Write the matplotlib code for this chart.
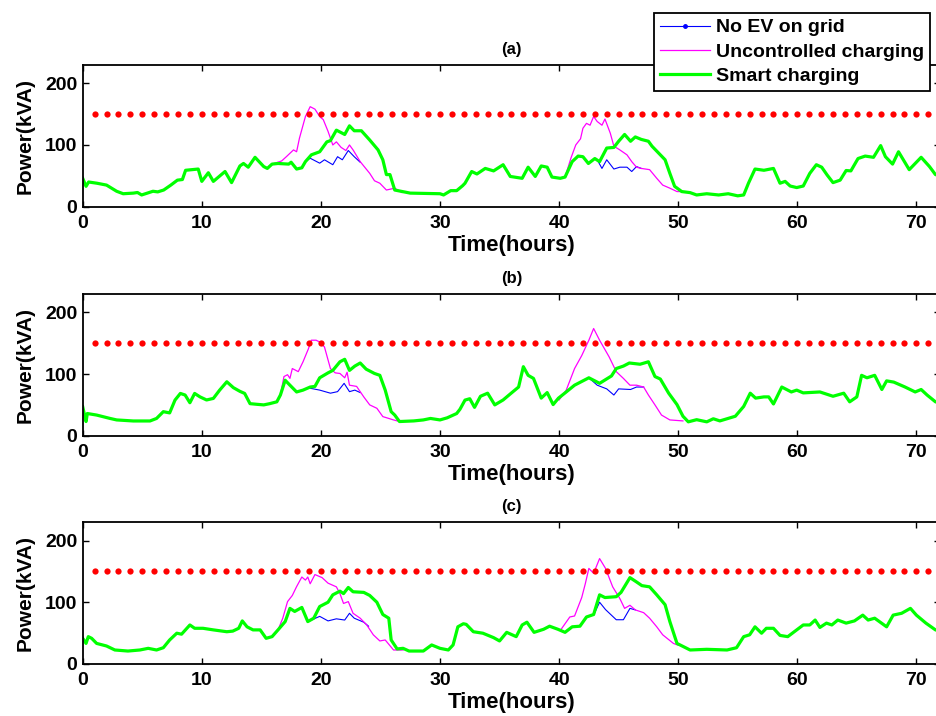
import numpy as np
import matplotlib
matplotlib.use('Agg')
import matplotlib.pyplot as plt
from matplotlib.lines import Line2D

plt.rcParams['font.family'] = ['Liberation Sans', 'DejaVu Sans']
plt.rcParams['font.weight'] = 'bold'

gap = np.nan  # separates the two evening windows in one series

# ---- panel (a) ----
smart_t_a = [0, 0.28, 0.5, 1.2, 2.0, 2.85, 3.4, 4.25, 4.6, 4.95, 5.9, 6.3, 6.8, 7.4, 7.95, 8.37, 8.64, 9.2, 9.7, 10.0,
             10.55, 10.97, 11.95, 12.5, 13.2, 13.5, 13.9, 14.47, 15.2, 15.5, 15.9, 16.4, 17.3, 17.5, 17.96, 18.4, 18.7,
             19.2, 19.9, 20.5, 20.8, 21.3, 22.0, 22.4, 22.8, 23.4, 24.1, 24.8, 25.2, 25.5, 25.8, 26.2, 27.5, 30.0,
             30.3, 30.9, 31.4, 31.9, 32.1, 32.66, 33.1, 33.8, 34.5, 35.3, 35.9, 36.9, 37.4, 38.0, 38.5, 39.0, 39.4,
             40.1, 40.5, 41.1, 41.6, 42.0, 42.46, 43.0, 43.4, 44.0, 44.6, 45.0, 45.5, 46.0, 46.4, 46.9, 47.5, 47.8,
             48.5, 48.9, 49.3, 49.7, 50.3, 51.0, 51.55, 52.4, 53.4, 54.2, 55.0, 55.5, 55.9, 56.45, 57.2, 58.0, 58.55,
             58.98, 59.4, 59.95, 60.5, 61.05, 61.6, 62.05, 62.5, 63.0, 63.6, 64.1, 64.5, 65.1, 65.7, 66.4, 67.0,
             67.4, 68.0, 68.5, 69.4, 70.4, 71.1, 71.6, 72.0]
smart_p_a = [46, 33, 40, 38, 35, 25, 21, 22, 23, 19, 25, 24, 27, 35, 43, 44, 59, 60, 61, 41,
             55, 41, 57, 39, 66, 70, 64, 80, 65, 62, 69, 70, 69, 72, 61, 63, 73,
             84, 89, 105, 107, 124, 117, 131, 123, 123, 108, 92, 76, 52, 52, 27, 22, 21,
             19, 26, 26, 34, 38, 57, 53, 62, 58, 68, 49, 46, 64, 49, 66, 64, 48,
             46, 48, 73, 82, 81, 70, 78, 73, 95, 96, 106, 117, 106, 113, 109, 106, 98,
             84, 76, 54, 33, 24.5, 22.8, 19, 21, 19, 21, 17.6, 19, 38, 61, 59, 62, 38,
             41, 33.5, 31, 33.5, 54, 68, 64, 51.5, 39, 43, 58.6, 58, 78, 82, 80, 99,
             81, 69, 89, 60, 80, 65, 52, 50]
unctrl_t_a = [15.9, 16.7, 17.1, 17.7, 17.96, 18.2, 18.7, 19.1, 19.5, 19.9, 20.2, 20.6, 21.0, 21.3, 21.7, 22.1, 22.4,
              22.7, 23.3, 24.1, 24.5, 24.95, 25.5, 26.2, 26.8, gap,
              40.5, 41.0, 41.4, 41.8, 42.0, 42.3, 42.6, 42.9, 43.2, 43.6, 43.85, 44.3, 44.6, 45.1, 45.7, 46.1, 46.5,
              46.9, 47.6, 48.2, 48.7, 49.3, 49.9, 50.3]
unctrl_p_a = [69, 74, 81, 92, 89, 111, 146, 162, 158, 146, 141, 122, 100, 105, 96, 91, 100,
              92, 73, 54, 42, 38, 27, 30, 23, gap,
              48, 79, 100, 110, 127, 135, 132, 146, 138, 132, 142, 119, 98, 92, 84, 73, 64,
              62, 60, 46, 35, 30, 24.5, 24.5]
noev_t_a = [18.7, 19.1, 19.9, 20.3, 21.0, 21.4, 21.8, 22.3, 22.8, 23.3, gap,
            42.46, 43.0, 43.2, 43.6, 44.0, 44.6, 45.1, 45.7, 46.1, 46.5, 46.9]
noev_p_a = [73, 78.5, 70.5, 76, 68, 81, 76, 91, 81, 72, gap,
            70, 78, 76, 62, 76, 61, 64, 64, 57, 65, 62]

# ---- panel (b) ----
smart_t_b = [0, 0.28, 0.39, 1.17, 2.3, 2.85, 4.25, 5.65, 6.2, 6.77, 7.3, 7.75, 8.2, 8.6, 9.0, 9.4, 9.85, 10.4, 10.97,
             11.5, 12.1, 12.65, 13.2, 13.6, 14.05, 14.6, 15.2, 15.7, 16.3, 16.6, 17.0, 17.4, 17.96, 18.5, 19.1, 19.5,
             19.9, 20.6, 21.0, 21.6, 22.0, 22.4, 22.85, 23.3, 23.8, 24.5, 24.95, 25.4, 25.9, 26.2, 26.6, 27.8, 28.6,
             29.2, 30.0, 30.6, 31.4, 31.68, 32.1, 32.5, 32.9, 33.4, 34.0, 34.6, 35.3, 36.1, 36.6, 37.0, 37.4, 37.85,
             38.5, 39.0, 39.5, 39.95, 40.6, 41.3, 42.5, 43.4, 44.4, 44.8, 45.4, 45.9, 46.8, 47.5, 48.05, 48.5, 49.2,
             49.9, 50.4, 50.85, 51.55, 52.4, 52.95, 53.5, 54.1, 54.8, 55.5, 56.05, 56.5, 57.2, 57.6, 58.0, 58.7,
             59.5, 59.95, 60.5, 61.9, 63.0, 63.9, 64.4, 65.0, 65.4, 65.85, 66.5, 67.1, 67.5, 68.1, 69.05, 69.9,
             70.4, 70.9, 71.6, 72.0]
smart_p_b = [47, 23, 36, 33.5, 28, 25.6, 23.9, 23.9, 28, 39, 37, 57.8, 68.6, 66, 53.5, 68.6, 63, 58, 60.5,
             74, 87.5, 78, 72, 68.6, 52, 51, 50, 52, 55, 66, 90, 82, 71, 74, 79, 80,
             94, 102, 106, 120, 124, 106, 113, 118, 108, 101, 98, 74, 39, 33.5, 23, 24, 25.6,
             28, 25.6, 29, 36, 43, 57.8, 60, 46, 64, 69, 50, 58, 71, 79, 112, 98, 93,
             61, 70, 50.5, 61, 71, 82, 94, 85, 97, 109, 113, 118, 116, 120, 96, 92, 69,
             50.5, 31.6, 22.5, 26, 22.5, 27.5, 24, 27.5, 31.6, 47.5, 69, 61, 63, 63, 51.5, 79,
             71, 74, 69.5, 71, 64, 69, 55, 63, 98, 94, 98, 75, 89, 87, 79, 71,
             75, 66, 55, 53]
unctrl_t_b = [16.6, 16.9, 17.2, 17.4, 17.6, 18.1, 18.5, 18.95, 19.2, 19.6, 19.9, 20.3, 20.8, 21.2, 21.6, 22.0, 22.2,
              22.4, 23.0, 23.6, 24.1, 24.7, 25.2, 26.1, 26.6, gap,
              40.0, 40.6, 41.3, 41.9, 42.5, 42.9, 43.4, 44.2, 44.8, 45.4, 45.95, 46.5, 47.1, 47.5, 48.05, 48.6,
              49.3, 50.4]
unctrl_p_b = [66, 96, 99, 93, 109, 104, 120, 141, 155, 155, 152, 144, 109, 102, 101, 94, 103,
              82, 80, 63, 50, 44.5, 31, 25.6, 23, gap,
              58, 74, 109, 130, 155, 174, 155, 128, 104, 93, 82, 82, 79, 66, 50, 33.5,
              25.6, 24]
noev_t_b = [19.1, 19.9, 20.8, 21.4, 21.95, 22.4, 22.85, 23.3, gap,
            42.5, 43.2, 44.0, 44.6, 45.0, 46.0, 46.5, 47.1]
noev_p_b = [77, 74, 69, 71.5, 85, 71.5, 74, 70, gap,
            94, 82, 76, 66, 76, 75, 79, 79]

# ---- panel (c) ----
smart_t_c = [0, 0.28, 0.47, 0.75, 1.17, 2.0, 2.7, 3.8, 4.8, 5.5, 6.2, 6.77, 7.3, 7.9, 8.3, 9.0, 9.4, 10.1, 10.97,
             12.1, 12.6, 13.1, 13.4, 13.8, 14.3, 14.9, 15.4, 15.9, 16.4, 17.0, 17.4, 17.8, 18.4, 18.9, 19.4, 19.9,
             20.6, 21.0, 21.6, 21.9, 22.3, 22.7, 23.6, 24.1, 24.7, 25.2, 25.7, 25.9, 26.4, 26.9, 27.4, 28.6, 29.3,
             30.0, 30.7, 31.1, 31.5, 31.96, 32.2, 32.8, 33.6, 34.5, 35.0, 35.6, 36.4, 36.9, 37.3, 37.9, 38.7, 39.2,
             39.9, 40.5, 41.1, 41.75, 42.3, 42.9, 43.4, 43.85, 44.8, 45.2, 45.95, 46.5, 46.95, 47.6, 48.2, 48.9,
             49.3, 49.9, 51.0, 52.4, 54.1, 54.9, 55.5, 56.0, 56.45, 57.0, 57.4, 58.0, 58.55, 59.2, 60.5, 61.05,
             61.5, 61.9, 62.45, 62.9, 63.4, 64.1, 64.8, 65.5, 65.95, 66.5, 67.5, 68.05, 68.76, 69.5, 70.0, 70.8,
             71.6, 72.0]
smart_p_c = [41.3, 33, 44, 41.3, 33, 28.8, 22.3, 20.6, 22.3, 25, 22.3, 26, 38.6, 49.6, 48, 63, 57.6, 57.6, 55,
             52, 53, 57.6, 69.6, 60, 55, 55, 41.3, 44, 55, 68.5, 90, 85, 91.5, 68.5, 74, 93,
             100, 112, 118, 114, 124, 117, 116, 111, 100, 80, 74, 38.6, 24, 25, 20.6, 20.6, 30.5,
             25, 22.3, 30.5, 60, 65, 64, 52, 49.6, 42.4, 37, 51, 44, 63, 67.5, 51, 56, 61,
             56, 51, 60, 61, 76, 80, 112, 107.6, 109, 116, 140, 133, 127, 125, 112, 96,
             68.5, 33, 22.3, 23.4, 22.3, 26, 44, 47, 60, 49.6, 57.6, 57.6, 46, 44, 63, 63,
             71, 59, 66, 63, 71, 66, 69.6, 79, 71, 74, 60, 79, 82, 90, 79, 66,
             55, 53]
unctrl_t_c = [16.4, 16.8, 17.2, 17.6, 17.95, 18.4, 18.7, 18.9, 19.1, 19.5, 20.1, 20.6, 21.3, 21.6, 21.9, 22.3, 22.7,
              23.3, 23.85, 24.4, 24.95, 25.4, 26.1, 26.9, gap,
              40.1, 40.9, 41.3, 41.9, 42.2, 42.5, 42.9, 43.4, 43.9, 44.5, 45.1, 45.5, 45.95, 46.4, 47.1, 47.6,
              48.2, 48.7, 49.6, 50.0]
unctrl_p_c = [55, 74, 101, 111, 125, 141, 136, 141, 130, 145, 140, 131, 125, 114, 98, 101, 82,
              74, 63, 47, 37, 38.6, 22.3, 22.3, gap,
              54, 76, 77.6, 107.6, 130, 155, 147, 171, 155, 125, 106, 90, 95, 87.5, 83, 74,
              60, 47, 33, 30]
noev_t_c = [18.9, 19.9, 20.6, 21.3, 22.0, 22.4, 22.8, 23.6, 24.0, gap,
            42.9, 43.4, 43.9, 44.8, 45.4, 45.95, 46.4]
noev_p_c = [68.5, 77, 69.6, 73, 71, 82, 74, 67.5, 61, gap,
            79, 100, 88, 71.5, 71.5, 90, 87.5]

limit_hours = list(range(1, 73))
limit_kva = 150

panels = [
    ('(a)', smart_t_a, smart_p_a, unctrl_t_a, unctrl_p_a, noev_t_a, noev_p_a),
    ('(b)', smart_t_b, smart_p_b, unctrl_t_b, unctrl_p_b, noev_t_b, noev_p_b),
    ('(c)', smart_t_c, smart_p_c, unctrl_t_c, unctrl_p_c, noev_t_c, noev_p_c),
]

BLUE, MAGENTA, GREEN, RED = (0, 0, 1), (1, 0, 1), (0, 1, 0), (1, 0, 0)

fig = plt.figure(figsize=(9.36, 7.16), dpi=100)
W, H = 936.0, 716.0
# (top px, bottom px) of each axes box
boxes = [(64.7, 206.7), (294.0, 435.7), (522.3, 663.7)]
left_px, width_px = 82.7, 857.5

for (title, st, sp, ut, up, nt, npow), (top, bot) in zip(panels, boxes):
    ax = fig.add_axes([left_px / W, 1 - bot / H, width_px / W, (bot - top) / H])
    ax.plot(nt, npow, '-', color=BLUE, linewidth=0.8)
    ax.plot(ut, up, '-', color=MAGENTA, linewidth=0.9)
    ax.plot(st, sp, '-', color=GREEN, linewidth=2.3)
    ax.plot(limit_hours, [limit_kva] * len(limit_hours), 'o', color=RED,
            markersize=4.5, markeredgewidth=0, linestyle='none')
    ax.set_xlim(0, 72)
    ax.set_ylim(0, 230)
    ax.set_xticks([0, 10, 20, 30, 40, 50, 60, 70])
    ax.set_yticks([0, 100, 200])
    ax.tick_params(direction='in', top=True, right=True, length=4, width=1.0,
                   labelsize=14)
    ax.tick_params(axis='x', pad=6)
    ax.tick_params(axis='y', pad=4)
    for lab in ax.get_xticklabels() + ax.get_yticklabels():
        lab.set_fontweight('bold')
    for s in ax.spines.values():
        s.set_linewidth(1.3)
    ax.set_title(title, fontsize=12, fontweight='bold', pad=8)
    ax.set_xlabel('Time(hours)', fontsize=16, fontweight='bold', labelpad=2)
    ax.set_ylabel('Power(kVA)', fontsize=15, fontweight='bold', labelpad=7.5)

handles = [
    Line2D([], [], color=BLUE, linewidth=0.8, marker='.', markersize=5),
    Line2D([], [], color=MAGENTA, linewidth=0.9),
    Line2D([], [], color=GREEN, linewidth=2.3),
]
leg = fig.legend(handles, ['No EV on grid', 'Uncontrolled charging', 'Smart charging'],
                 loc='upper left', bbox_to_anchor=(654 / W, 1 - 13 / H),
                 prop={'weight': 'bold', 'size': 14}, fancybox=False, framealpha=1,
                 edgecolor='black', handlelength=2.6, handletextpad=0.3, labelspacing=0.35,
                 borderpad=0.3, borderaxespad=0)
leg.get_frame().set_linewidth(1.3)

fig.savefig('out.png', dpi=100)
